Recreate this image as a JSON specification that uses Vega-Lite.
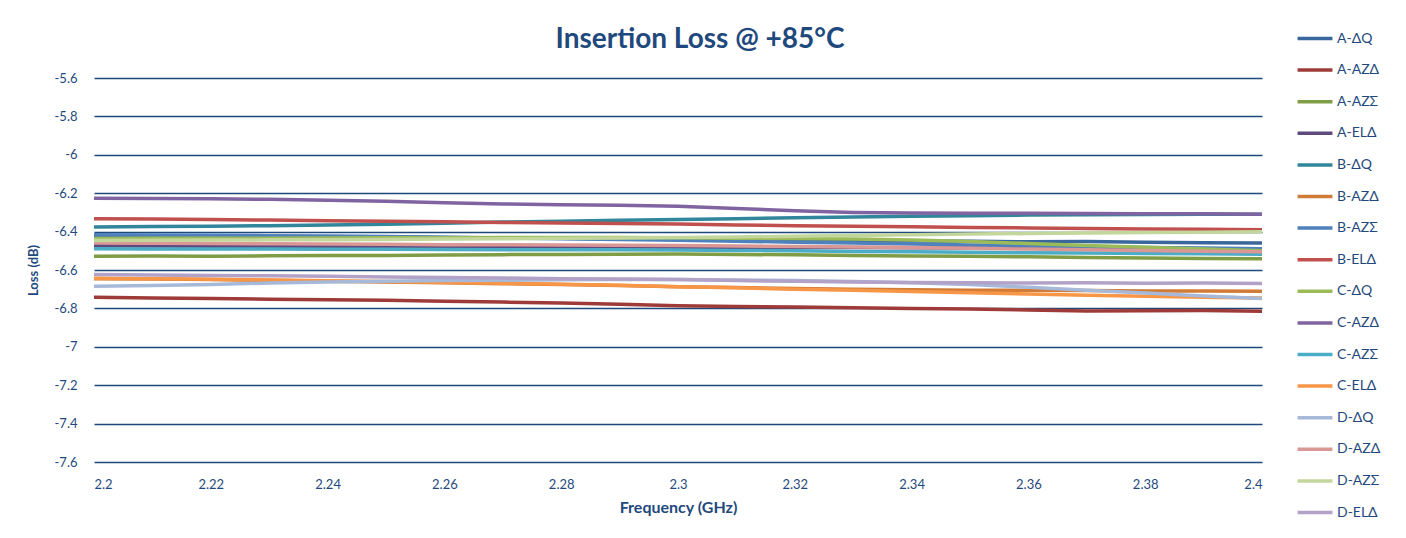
{
  "$schema": "https://vega.github.io/schema/vega-lite/v6.json",
  "width": 1168,
  "height": 384,
  "autosize": {"type": "none"},
  "padding": {"left": 94, "top": 78, "right": 144, "bottom": 76},
  "background": "white",
  "config": {"font": "Lato", "view": {"stroke": null}},
  "title": {"text": "Insertion Loss @ +85°C", "fontSize": 28, "fontWeight": "bold", "color": "#1F497D", "dx": 22, "offset": -32},
  "datasets": {
    "loss": [
      {"s":"A-ΔQ","f":2.20,"v":-6.421},{"s":"A-ΔQ","f":2.21,"v":-6.424},{"s":"A-ΔQ","f":2.22,"v":-6.423},{"s":"A-ΔQ","f":2.23,"v":-6.426},{"s":"A-ΔQ","f":2.24,"v":-6.428},{"s":"A-ΔQ","f":2.25,"v":-6.427},{"s":"A-ΔQ","f":2.26,"v":-6.431},{"s":"A-ΔQ","f":2.27,"v":-6.433},{"s":"A-ΔQ","f":2.28,"v":-6.435},{"s":"A-ΔQ","f":2.29,"v":-6.437},{"s":"A-ΔQ","f":2.30,"v":-6.441},{"s":"A-ΔQ","f":2.31,"v":-6.443},{"s":"A-ΔQ","f":2.32,"v":-6.444},{"s":"A-ΔQ","f":2.33,"v":-6.447},{"s":"A-ΔQ","f":2.34,"v":-6.449},{"s":"A-ΔQ","f":2.35,"v":-6.450},{"s":"A-ΔQ","f":2.36,"v":-6.453},{"s":"A-ΔQ","f":2.37,"v":-6.452},{"s":"A-ΔQ","f":2.38,"v":-6.456},{"s":"A-ΔQ","f":2.39,"v":-6.458},{"s":"A-ΔQ","f":2.40,"v":-6.460},
      {"s":"A-AZΔ","f":2.20,"v":-6.742},{"s":"A-AZΔ","f":2.21,"v":-6.746},{"s":"A-AZΔ","f":2.22,"v":-6.748},{"s":"A-AZΔ","f":2.23,"v":-6.752},{"s":"A-AZΔ","f":2.24,"v":-6.755},{"s":"A-AZΔ","f":2.25,"v":-6.758},{"s":"A-AZΔ","f":2.26,"v":-6.763},{"s":"A-AZΔ","f":2.27,"v":-6.767},{"s":"A-AZΔ","f":2.28,"v":-6.772},{"s":"A-AZΔ","f":2.29,"v":-6.779},{"s":"A-AZΔ","f":2.30,"v":-6.786},{"s":"A-AZΔ","f":2.31,"v":-6.790},{"s":"A-AZΔ","f":2.32,"v":-6.793},{"s":"A-AZΔ","f":2.33,"v":-6.797},{"s":"A-AZΔ","f":2.34,"v":-6.800},{"s":"A-AZΔ","f":2.35,"v":-6.803},{"s":"A-AZΔ","f":2.36,"v":-6.808},{"s":"A-AZΔ","f":2.37,"v":-6.813},{"s":"A-AZΔ","f":2.38,"v":-6.812},{"s":"A-AZΔ","f":2.39,"v":-6.811},{"s":"A-AZΔ","f":2.40,"v":-6.815},
      {"s":"A-AZΣ","f":2.20,"v":-6.528},{"s":"A-AZΣ","f":2.21,"v":-6.527},{"s":"A-AZΣ","f":2.22,"v":-6.529},{"s":"A-AZΣ","f":2.23,"v":-6.526},{"s":"A-AZΣ","f":2.24,"v":-6.524},{"s":"A-AZΣ","f":2.25,"v":-6.525},{"s":"A-AZΣ","f":2.26,"v":-6.522},{"s":"A-AZΣ","f":2.27,"v":-6.520},{"s":"A-AZΣ","f":2.28,"v":-6.519},{"s":"A-AZΣ","f":2.29,"v":-6.518},{"s":"A-AZΣ","f":2.30,"v":-6.517},{"s":"A-AZΣ","f":2.31,"v":-6.519},{"s":"A-AZΣ","f":2.32,"v":-6.521},{"s":"A-AZΣ","f":2.33,"v":-6.524},{"s":"A-AZΣ","f":2.34,"v":-6.527},{"s":"A-AZΣ","f":2.35,"v":-6.529},{"s":"A-AZΣ","f":2.36,"v":-6.531},{"s":"A-AZΣ","f":2.37,"v":-6.535},{"s":"A-AZΣ","f":2.38,"v":-6.537},{"s":"A-AZΣ","f":2.39,"v":-6.540},{"s":"A-AZΣ","f":2.40,"v":-6.542},
      {"s":"A-ELΔ","f":2.20,"v":-6.474},{"s":"A-ELΔ","f":2.21,"v":-6.475},{"s":"A-ELΔ","f":2.22,"v":-6.476},{"s":"A-ELΔ","f":2.23,"v":-6.476},{"s":"A-ELΔ","f":2.24,"v":-6.477},{"s":"A-ELΔ","f":2.25,"v":-6.478},{"s":"A-ELΔ","f":2.26,"v":-6.478},{"s":"A-ELΔ","f":2.27,"v":-6.479},{"s":"A-ELΔ","f":2.28,"v":-6.480},{"s":"A-ELΔ","f":2.29,"v":-6.481},{"s":"A-ELΔ","f":2.30,"v":-6.481},{"s":"A-ELΔ","f":2.31,"v":-6.482},{"s":"A-ELΔ","f":2.32,"v":-6.483},{"s":"A-ELΔ","f":2.33,"v":-6.483},{"s":"A-ELΔ","f":2.34,"v":-6.484},{"s":"A-ELΔ","f":2.35,"v":-6.486},{"s":"A-ELΔ","f":2.36,"v":-6.487},{"s":"A-ELΔ","f":2.37,"v":-6.486},{"s":"A-ELΔ","f":2.38,"v":-6.488},{"s":"A-ELΔ","f":2.39,"v":-6.489},{"s":"A-ELΔ","f":2.40,"v":-6.490},
      {"s":"B-ΔQ","f":2.20,"v":-6.376},{"s":"B-ΔQ","f":2.21,"v":-6.374},{"s":"B-ΔQ","f":2.22,"v":-6.372},{"s":"B-ΔQ","f":2.23,"v":-6.369},{"s":"B-ΔQ","f":2.24,"v":-6.366},{"s":"B-ΔQ","f":2.25,"v":-6.362},{"s":"B-ΔQ","f":2.26,"v":-6.357},{"s":"B-ΔQ","f":2.27,"v":-6.350},{"s":"B-ΔQ","f":2.28,"v":-6.346},{"s":"B-ΔQ","f":2.29,"v":-6.341},{"s":"B-ΔQ","f":2.30,"v":-6.337},{"s":"B-ΔQ","f":2.31,"v":-6.333},{"s":"B-ΔQ","f":2.32,"v":-6.328},{"s":"B-ΔQ","f":2.33,"v":-6.324},{"s":"B-ΔQ","f":2.34,"v":-6.320},{"s":"B-ΔQ","f":2.35,"v":-6.317},{"s":"B-ΔQ","f":2.36,"v":-6.314},{"s":"B-ΔQ","f":2.37,"v":-6.312},{"s":"B-ΔQ","f":2.38,"v":-6.311},{"s":"B-ΔQ","f":2.39,"v":-6.310},{"s":"B-ΔQ","f":2.40,"v":-6.310},
      {"s":"B-AZΔ","f":2.20,"v":-6.645},{"s":"B-AZΔ","f":2.21,"v":-6.647},{"s":"B-AZΔ","f":2.22,"v":-6.650},{"s":"B-AZΔ","f":2.23,"v":-6.654},{"s":"B-AZΔ","f":2.24,"v":-6.658},{"s":"B-AZΔ","f":2.25,"v":-6.662},{"s":"B-AZΔ","f":2.26,"v":-6.667},{"s":"B-AZΔ","f":2.27,"v":-6.671},{"s":"B-AZΔ","f":2.28,"v":-6.676},{"s":"B-AZΔ","f":2.29,"v":-6.681},{"s":"B-AZΔ","f":2.30,"v":-6.687},{"s":"B-AZΔ","f":2.31,"v":-6.691},{"s":"B-AZΔ","f":2.32,"v":-6.696},{"s":"B-AZΔ","f":2.33,"v":-6.700},{"s":"B-AZΔ","f":2.34,"v":-6.703},{"s":"B-AZΔ","f":2.35,"v":-6.705},{"s":"B-AZΔ","f":2.36,"v":-6.706},{"s":"B-AZΔ","f":2.37,"v":-6.707},{"s":"B-AZΔ","f":2.38,"v":-6.709},{"s":"B-AZΔ","f":2.39,"v":-6.709},{"s":"B-AZΔ","f":2.40,"v":-6.711},
      {"s":"B-AZΣ","f":2.20,"v":-6.417},{"s":"B-AZΣ","f":2.21,"v":-6.418},{"s":"B-AZΣ","f":2.22,"v":-6.419},{"s":"B-AZΣ","f":2.23,"v":-6.421},{"s":"B-AZΣ","f":2.24,"v":-6.423},{"s":"B-AZΣ","f":2.25,"v":-6.426},{"s":"B-AZΣ","f":2.26,"v":-6.429},{"s":"B-AZΣ","f":2.27,"v":-6.433},{"s":"B-AZΣ","f":2.28,"v":-6.437},{"s":"B-AZΣ","f":2.29,"v":-6.441},{"s":"B-AZΣ","f":2.30,"v":-6.445},{"s":"B-AZΣ","f":2.31,"v":-6.450},{"s":"B-AZΣ","f":2.32,"v":-6.455},{"s":"B-AZΣ","f":2.33,"v":-6.460},{"s":"B-AZΣ","f":2.34,"v":-6.465},{"s":"B-AZΣ","f":2.35,"v":-6.470},{"s":"B-AZΣ","f":2.36,"v":-6.475},{"s":"B-AZΣ","f":2.37,"v":-6.479},{"s":"B-AZΣ","f":2.38,"v":-6.483},{"s":"B-AZΣ","f":2.39,"v":-6.486},{"s":"B-AZΣ","f":2.40,"v":-6.489},
      {"s":"B-ELΔ","f":2.20,"v":-6.333},{"s":"B-ELΔ","f":2.21,"v":-6.335},{"s":"B-ELΔ","f":2.22,"v":-6.337},{"s":"B-ELΔ","f":2.23,"v":-6.340},{"s":"B-ELΔ","f":2.24,"v":-6.343},{"s":"B-ELΔ","f":2.25,"v":-6.346},{"s":"B-ELΔ","f":2.26,"v":-6.349},{"s":"B-ELΔ","f":2.27,"v":-6.352},{"s":"B-ELΔ","f":2.28,"v":-6.355},{"s":"B-ELΔ","f":2.29,"v":-6.358},{"s":"B-ELΔ","f":2.30,"v":-6.361},{"s":"B-ELΔ","f":2.31,"v":-6.365},{"s":"B-ELΔ","f":2.32,"v":-6.369},{"s":"B-ELΔ","f":2.33,"v":-6.372},{"s":"B-ELΔ","f":2.34,"v":-6.375},{"s":"B-ELΔ","f":2.35,"v":-6.378},{"s":"B-ELΔ","f":2.36,"v":-6.381},{"s":"B-ELΔ","f":2.37,"v":-6.384},{"s":"B-ELΔ","f":2.38,"v":-6.386},{"s":"B-ELΔ","f":2.39,"v":-6.388},{"s":"B-ELΔ","f":2.40,"v":-6.390},
      {"s":"C-ΔQ","f":2.20,"v":-6.436},{"s":"C-ΔQ","f":2.21,"v":-6.435},{"s":"C-ΔQ","f":2.22,"v":-6.434},{"s":"C-ΔQ","f":2.23,"v":-6.434},{"s":"C-ΔQ","f":2.24,"v":-6.433},{"s":"C-ΔQ","f":2.25,"v":-6.432},{"s":"C-ΔQ","f":2.26,"v":-6.432},{"s":"C-ΔQ","f":2.27,"v":-6.431},{"s":"C-ΔQ","f":2.28,"v":-6.431},{"s":"C-ΔQ","f":2.29,"v":-6.431},{"s":"C-ΔQ","f":2.30,"v":-6.432},{"s":"C-ΔQ","f":2.31,"v":-6.434},{"s":"C-ΔQ","f":2.32,"v":-6.436},{"s":"C-ΔQ","f":2.33,"v":-6.439},{"s":"C-ΔQ","f":2.34,"v":-6.444},{"s":"C-ΔQ","f":2.35,"v":-6.452},{"s":"C-ΔQ","f":2.36,"v":-6.462},{"s":"C-ΔQ","f":2.37,"v":-6.472},{"s":"C-ΔQ","f":2.38,"v":-6.482},{"s":"C-ΔQ","f":2.39,"v":-6.491},{"s":"C-ΔQ","f":2.40,"v":-6.500},
      {"s":"C-AZΔ","f":2.20,"v":-6.226},{"s":"C-AZΔ","f":2.21,"v":-6.228},{"s":"C-AZΔ","f":2.22,"v":-6.229},{"s":"C-AZΔ","f":2.23,"v":-6.232},{"s":"C-AZΔ","f":2.24,"v":-6.237},{"s":"C-AZΔ","f":2.25,"v":-6.242},{"s":"C-AZΔ","f":2.26,"v":-6.250},{"s":"C-AZΔ","f":2.27,"v":-6.256},{"s":"C-AZΔ","f":2.28,"v":-6.260},{"s":"C-AZΔ","f":2.29,"v":-6.263},{"s":"C-AZΔ","f":2.30,"v":-6.268},{"s":"C-AZΔ","f":2.31,"v":-6.280},{"s":"C-AZΔ","f":2.32,"v":-6.291},{"s":"C-AZΔ","f":2.33,"v":-6.300},{"s":"C-AZΔ","f":2.34,"v":-6.303},{"s":"C-AZΔ","f":2.35,"v":-6.304},{"s":"C-AZΔ","f":2.36,"v":-6.305},{"s":"C-AZΔ","f":2.37,"v":-6.306},{"s":"C-AZΔ","f":2.38,"v":-6.307},{"s":"C-AZΔ","f":2.39,"v":-6.307},{"s":"C-AZΔ","f":2.40,"v":-6.309},
      {"s":"C-AZΣ","f":2.20,"v":-6.489},{"s":"C-AZΣ","f":2.21,"v":-6.490},{"s":"C-AZΣ","f":2.22,"v":-6.490},{"s":"C-AZΣ","f":2.23,"v":-6.491},{"s":"C-AZΣ","f":2.24,"v":-6.492},{"s":"C-AZΣ","f":2.25,"v":-6.492},{"s":"C-AZΣ","f":2.26,"v":-6.493},{"s":"C-AZΣ","f":2.27,"v":-6.494},{"s":"C-AZΣ","f":2.28,"v":-6.494},{"s":"C-AZΣ","f":2.29,"v":-6.495},{"s":"C-AZΣ","f":2.30,"v":-6.496},{"s":"C-AZΣ","f":2.31,"v":-6.498},{"s":"C-AZΣ","f":2.32,"v":-6.500},{"s":"C-AZΣ","f":2.33,"v":-6.503},{"s":"C-AZΣ","f":2.34,"v":-6.505},{"s":"C-AZΣ","f":2.35,"v":-6.508},{"s":"C-AZΣ","f":2.36,"v":-6.510},{"s":"C-AZΣ","f":2.37,"v":-6.512},{"s":"C-AZΣ","f":2.38,"v":-6.514},{"s":"C-AZΣ","f":2.39,"v":-6.516},{"s":"C-AZΣ","f":2.40,"v":-6.518},
      {"s":"C-ELΔ","f":2.20,"v":-6.643},{"s":"C-ELΔ","f":2.21,"v":-6.645},{"s":"C-ELΔ","f":2.22,"v":-6.648},{"s":"C-ELΔ","f":2.23,"v":-6.652},{"s":"C-ELΔ","f":2.24,"v":-6.656},{"s":"C-ELΔ","f":2.25,"v":-6.660},{"s":"C-ELΔ","f":2.26,"v":-6.665},{"s":"C-ELΔ","f":2.27,"v":-6.669},{"s":"C-ELΔ","f":2.28,"v":-6.674},{"s":"C-ELΔ","f":2.29,"v":-6.680},{"s":"C-ELΔ","f":2.30,"v":-6.687},{"s":"C-ELΔ","f":2.31,"v":-6.693},{"s":"C-ELΔ","f":2.32,"v":-6.700},{"s":"C-ELΔ","f":2.33,"v":-6.706},{"s":"C-ELΔ","f":2.34,"v":-6.712},{"s":"C-ELΔ","f":2.35,"v":-6.718},{"s":"C-ELΔ","f":2.36,"v":-6.725},{"s":"C-ELΔ","f":2.37,"v":-6.731},{"s":"C-ELΔ","f":2.38,"v":-6.737},{"s":"C-ELΔ","f":2.39,"v":-6.742},{"s":"C-ELΔ","f":2.40,"v":-6.746},
      {"s":"D-ΔQ","f":2.20,"v":-6.684},{"s":"D-ΔQ","f":2.21,"v":-6.681},{"s":"D-ΔQ","f":2.22,"v":-6.675},{"s":"D-ΔQ","f":2.23,"v":-6.668},{"s":"D-ΔQ","f":2.24,"v":-6.662},{"s":"D-ΔQ","f":2.25,"v":-6.658},{"s":"D-ΔQ","f":2.26,"v":-6.655},{"s":"D-ΔQ","f":2.27,"v":-6.653},{"s":"D-ΔQ","f":2.28,"v":-6.651},{"s":"D-ΔQ","f":2.29,"v":-6.650},{"s":"D-ΔQ","f":2.30,"v":-6.650},{"s":"D-ΔQ","f":2.31,"v":-6.652},{"s":"D-ΔQ","f":2.32,"v":-6.655},{"s":"D-ΔQ","f":2.33,"v":-6.660},{"s":"D-ΔQ","f":2.34,"v":-6.666},{"s":"D-ΔQ","f":2.35,"v":-6.675},{"s":"D-ΔQ","f":2.36,"v":-6.690},{"s":"D-ΔQ","f":2.37,"v":-6.705},{"s":"D-ΔQ","f":2.38,"v":-6.720},{"s":"D-ΔQ","f":2.39,"v":-6.735},{"s":"D-ΔQ","f":2.40,"v":-6.748},
      {"s":"D-AZΔ","f":2.20,"v":-6.460},{"s":"D-AZΔ","f":2.21,"v":-6.461},{"s":"D-AZΔ","f":2.22,"v":-6.462},{"s":"D-AZΔ","f":2.23,"v":-6.463},{"s":"D-AZΔ","f":2.24,"v":-6.465},{"s":"D-AZΔ","f":2.25,"v":-6.466},{"s":"D-AZΔ","f":2.26,"v":-6.468},{"s":"D-AZΔ","f":2.27,"v":-6.469},{"s":"D-AZΔ","f":2.28,"v":-6.470},{"s":"D-AZΔ","f":2.29,"v":-6.471},{"s":"D-AZΔ","f":2.30,"v":-6.473},{"s":"D-AZΔ","f":2.31,"v":-6.475},{"s":"D-AZΔ","f":2.32,"v":-6.477},{"s":"D-AZΔ","f":2.33,"v":-6.480},{"s":"D-AZΔ","f":2.34,"v":-6.483},{"s":"D-AZΔ","f":2.35,"v":-6.487},{"s":"D-AZΔ","f":2.36,"v":-6.491},{"s":"D-AZΔ","f":2.37,"v":-6.495},{"s":"D-AZΔ","f":2.38,"v":-6.499},{"s":"D-AZΔ","f":2.39,"v":-6.502},{"s":"D-AZΔ","f":2.40,"v":-6.505},
      {"s":"D-AZΣ","f":2.20,"v":-6.446},{"s":"D-AZΣ","f":2.21,"v":-6.445},{"s":"D-AZΣ","f":2.22,"v":-6.444},{"s":"D-AZΣ","f":2.23,"v":-6.443},{"s":"D-AZΣ","f":2.24,"v":-6.442},{"s":"D-AZΣ","f":2.25,"v":-6.441},{"s":"D-AZΣ","f":2.26,"v":-6.439},{"s":"D-AZΣ","f":2.27,"v":-6.437},{"s":"D-AZΣ","f":2.28,"v":-6.435},{"s":"D-AZΣ","f":2.29,"v":-6.433},{"s":"D-AZΣ","f":2.30,"v":-6.431},{"s":"D-AZΣ","f":2.31,"v":-6.428},{"s":"D-AZΣ","f":2.32,"v":-6.424},{"s":"D-AZΣ","f":2.33,"v":-6.420},{"s":"D-AZΣ","f":2.34,"v":-6.416},{"s":"D-AZΣ","f":2.35,"v":-6.413},{"s":"D-AZΣ","f":2.36,"v":-6.410},{"s":"D-AZΣ","f":2.37,"v":-6.407},{"s":"D-AZΣ","f":2.38,"v":-6.405},{"s":"D-AZΣ","f":2.39,"v":-6.403},{"s":"D-AZΣ","f":2.40,"v":-6.401},
      {"s":"D-ELΔ","f":2.20,"v":-6.624},{"s":"D-ELΔ","f":2.21,"v":-6.626},{"s":"D-ELΔ","f":2.22,"v":-6.628},{"s":"D-ELΔ","f":2.23,"v":-6.630},{"s":"D-ELΔ","f":2.24,"v":-6.633},{"s":"D-ELΔ","f":2.25,"v":-6.636},{"s":"D-ELΔ","f":2.26,"v":-6.639},{"s":"D-ELΔ","f":2.27,"v":-6.642},{"s":"D-ELΔ","f":2.28,"v":-6.645},{"s":"D-ELΔ","f":2.29,"v":-6.647},{"s":"D-ELΔ","f":2.30,"v":-6.650},{"s":"D-ELΔ","f":2.31,"v":-6.655},{"s":"D-ELΔ","f":2.32,"v":-6.659},{"s":"D-ELΔ","f":2.33,"v":-6.663},{"s":"D-ELΔ","f":2.34,"v":-6.665},{"s":"D-ELΔ","f":2.35,"v":-6.667},{"s":"D-ELΔ","f":2.36,"v":-6.668},{"s":"D-ELΔ","f":2.37,"v":-6.667},{"s":"D-ELΔ","f":2.38,"v":-6.669},{"s":"D-ELΔ","f":2.39,"v":-6.668},{"s":"D-ELΔ","f":2.40,"v":-6.670}
    ]
  },
  "layer": [
    {
      "data": {"name": "loss"},
      "mark": {"type": "line", "strokeWidth": 3.5, "interpolate": "linear"},
      "encoding": {
        "x": {
          "field": "f", "type": "quantitative",
          "scale": {"domain": [2.2, 2.4], "nice": false, "zero": false},
          "axis": {
            "title": "Frequency (GHz)",
            "values": [2.2, 2.22, 2.24, 2.26, 2.28, 2.3, 2.32, 2.34, 2.36, 2.38, 2.4],
            "labelExpr": "replace(format(datum.value, '.2~f'), '−', '-')",
            "grid": false, "domain": false, "ticks": false,
            "labelFontSize": 13, "labelColor": "#1F497D", "labelPadding": 16,
            "titleFontSize": 16, "titleFontWeight": "bold", "titleColor": "#1F497D", "titlePadding": 8
          }
        },
        "y": {
          "field": "v", "type": "quantitative",
          "scale": {"domain": [-7.6, -5.6], "nice": false, "zero": false},
          "axis": {
            "title": "Loss (dB)",
            "values": [-7.6, -7.4, -7.2, -7, -6.8, -6.6, -6.4, -6.2, -6, -5.8, -5.6],
            "labelExpr": "replace(format(datum.value, '.1~f'), '−', '-')",
            "grid": true, "gridColor": "#1F497D", "gridWidth": 1.5, "gridOpacity": 1,
            "domain": false, "ticks": false,
            "labelFontSize": 13, "labelColor": "#1F497D", "labelPadding": 17,
            "titleFontSize": 13, "titleFontWeight": "bold", "titleColor": "#1F497D", "titlePadding": 14
          }
        },
        "color": {
          "field": "s", "type": "nominal",
          "scale": {
            "domain": ["A-ΔQ","A-AZΔ","A-AZΣ","A-ELΔ","B-ΔQ","B-AZΔ","B-AZΣ","B-ELΔ","C-ΔQ","C-AZΔ","C-AZΣ","C-ELΔ","D-ΔQ","D-AZΔ","D-AZΣ","D-ELΔ"],
            "range": ["#3A679B","#9E3B39","#7E9D45","#5F4A7F","#31869B","#D17B36","#4F81BD","#C0504D","#9BBB59","#8064A2","#4BACC6","#F79646","#A7B9D9","#D99795","#C3D69B","#B3A2C7"]
          },
          "legend": {
            "title": null, "orient": "none", "legendX": 1204.5, "legendY": -56,
            "symbolType": "M-1.22,0H1.22", "symbolSize": 818, "symbolStrokeWidth": 3.5,
            "labelFontSize": 14, "labelColor": "#1F497D", "labelOffset": 5.5,
            "rowPadding": 7.6, "padding": 0
          }
        }
      }
    },
    {
      "mark": {"type": "rule", "color": "#8EB4E3", "strokeWidth": 2},
      "encoding": {"x": {"datum": 2.4}}
    }
  ]
}
